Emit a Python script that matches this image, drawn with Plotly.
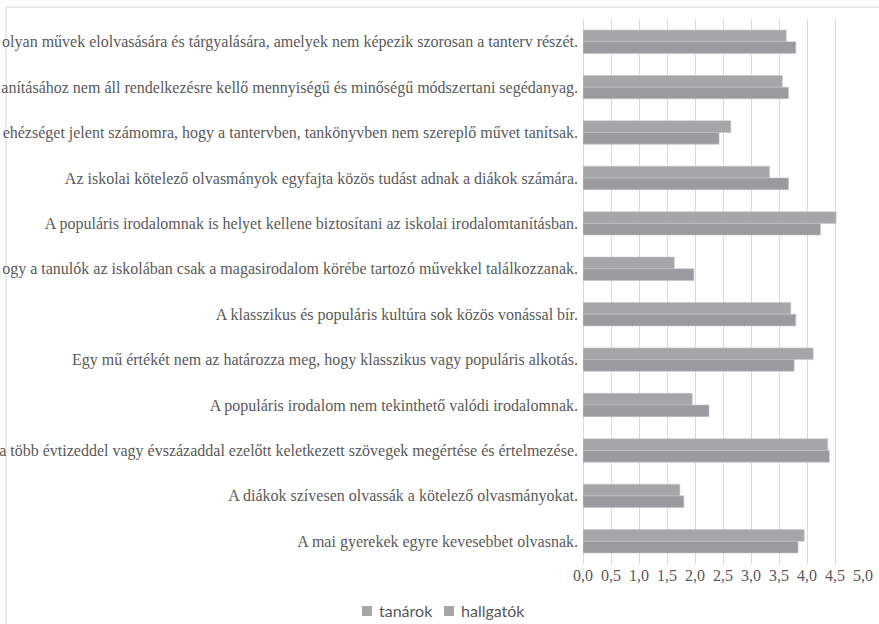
import plotly.graph_objects as go

# Category labels as visible in the reference (left part is cut off there)
categories = [
    "olyan művek elolvasására és tárgyalására, amelyek nem képezik szorosan a tanterv részét.",
    "anításához nem áll rendelkezésre kellő mennyiségű és minőségű módszertani segédanyag.",
    "ehézséget jelent számomra, hogy a tantervben, tankönyvben nem szereplő művet tanítsak.",
    "Az iskolai kötelező olvasmányok egyfajta közös tudást adnak a diákok számára.",
    "A populáris irodalomnak is helyet kellene biztosítani az iskolai irodalomtanításban.",
    "ogy a tanulók az iskolában csak a magasirodalom körébe tartozó művekkel találkozzanak.",
    "A klasszikus és populáris kultúra sok közös vonással bír.",
    "Egy mű értékét nem az határozza meg, hogy klasszikus vagy populáris alkotás.",
    "A populáris irodalom nem tekinthető valódi irodalomnak.",
    "a több évtizeddel vagy évszázaddal ezelőtt keletkezett szövegek megértése és értelmezése.",
    "A diákok szívesen olvassák a kötelező olvasmányokat.",
    "A mai gyerekek egyre kevesebbet olvasnak.",
]
series_names = ["tanárok", "hallgatók"]
tanarok = [3.63, 3.56, 2.64, 3.33, 4.52, 1.63, 3.71, 4.11, 1.95, 4.37, 1.73, 3.95]
hallgatok = [3.80, 3.67, 2.43, 3.67, 4.24, 1.98, 3.80, 3.77, 2.25, 4.40, 1.80, 3.84]
colors = ["#a6a6a9", "#9b9b9f"]

fig = go.Figure()
for name, vals, col in zip(series_names, [tanarok, hallgatok], colors):
    fig.add_trace(go.Bar(y=categories, x=vals, orientation="h", name=name,
                         marker=dict(color=col, line=dict(color="#c4c4c6", width=0.6))))

L, R, T, B = 583, 16, 19, 60
W, H = 879, 624
pw = W - L - R
ph = H - T - B

def px_x(x):
    return (x - L) / pw

def px_y(y):
    return (T + ph - y) / ph

shapes = [dict(type="rect", xref="paper", yref="paper",
               x0=px_x(6), x1=px_x(W + 10), y0=px_y(H + 10), y1=px_y(7),
               line=dict(color="#d9d9d9", width=1), fillcolor="rgba(0,0,0,0)", layer="below")]
annotations = []
legend_pos = [362, 444]
for name, col, lx in zip(series_names, ["#a6a6a6", "#a6a6a6"], legend_pos):
    shapes.append(dict(type="rect", xref="paper", yref="paper",
                       x0=px_x(lx), x1=px_x(lx + 10), y0=px_y(616), y1=px_y(606),
                       line=dict(width=0), fillcolor=col))
    annotations.append(dict(text=name, xref="paper", yref="paper", x=px_x(lx + 15), y=px_y(610),
                            xanchor="left", yanchor="middle", showarrow=False,
                            font=dict(family="Lato, Open Sans, sans-serif", size=16, color="#595959")))

fig.update_layout(
    width=W, height=H,
    margin=dict(l=L, r=R, t=T, b=B, autoexpand=False),
    barmode="group", bargap=0.486, bargroupgap=0,
    plot_bgcolor="white", paper_bgcolor="white",
    separators=", ",
    showlegend=False,
    xaxis=dict(range=[0, 5], dtick=0.5, tick0=0, tickformat=".1f",
               showgrid=True, gridcolor="#d9d9d9", gridwidth=1.3,
               zeroline=True, zerolinecolor="#d9d9d9", zerolinewidth=1.3,
               showline=False, ticks="", automargin=False,
               tickfont=dict(family="Liberation Serif, Times New Roman, serif", size=16, color="#595959")),
    yaxis=dict(autorange="reversed", showgrid=False, showline=False, ticks="",
               automargin=False, ticklabelstandoff=4,
               tickfont=dict(family="Liberation Serif, Times New Roman, serif", size=16, color="#595959")),
    shapes=shapes,
    annotations=annotations,
)

fig.write_html("out.html")
